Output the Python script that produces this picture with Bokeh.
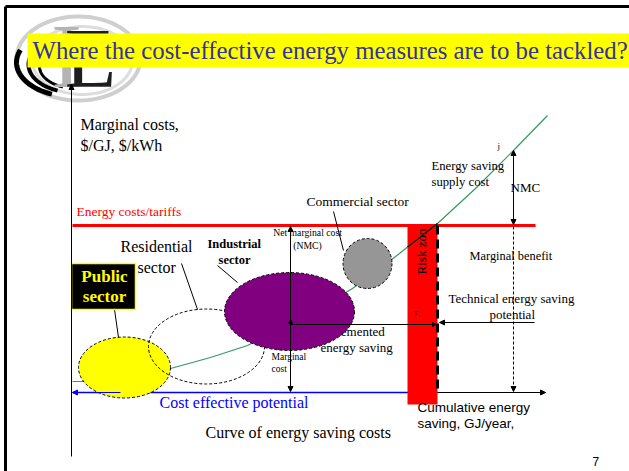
from bokeh.plotting import figure
from bokeh.models import Range1d, Arrow, NormalHead
from bokeh.core.properties import value
from bokeh.embed import file_html
from bokeh.resources import INLINE
import numpy as np

# ---------------- data ----------------
title_text = "Where the cost-effective energy measures are to be tackled?"
# energy-saving supply cost curve (cumulative saving -> marginal cost), diagram units
curve_x = [72, 82, 130, 170, 210, 247, 300, 352, 390, 437, 475, 513, 547]
curve_y = [381, 381, 375, 368, 357, 345, 318, 288, 260, 223, 188, 150, 115]
tariff_level = 225
baseline_level = 392
risk_zone = [407, 437]
sector_names = ["Public sector", "Residential sector", "Industrial sector", "Commercial sector"]
sector_x = [124, 206, 289, 367]
sector_y = [367, 346, 311, 263]
sector_w = [92, 116, 130, 49]
sector_h = [61, 75, 78, 50]
sector_fill = ["#ffff00", None, "#800080", "#969696"]

SERIF = value("Liberation Serif")
SANS = value("Liberation Sans")
W, H = 629, 471

p = figure(width=W, height=H, output_backend="svg", toolbar_location=None,
           x_range=Range1d(0, W), y_range=Range1d(H, 0),
           min_border=0, outline_line_color=None)
p.axis.visible = False
p.grid.visible = False


def txt(x, y, s, size, color="black", font=SERIF, align="left", style="normal", angle=0):
    p.text(x=[x], y=[y], text=[s], text_font=font, text_font_size=size,
           text_color=color, text_align=align, text_baseline="middle",
           text_font_style=style, angle=angle)


def arrow(x0, y0, x1, y1, color="black", width=1, dash="solid", size=6):
    a = Arrow(x_start=x0, y_start=y0, x_end=x1, y_end=y1, line_color=color,
              line_width=width, line_dash=dash,
              end=NormalHead(size=size, fill_color=color, line_color=color))
    p.add_layout(a)

# ---------------- slide frame & logo ----------------
p.line([5, W], [6, 6], line_color="black", line_width=3)
p.line([5, 5], [6, H], line_color="black", line_width=3)

t = np.linspace(0, 2 * np.pi, 90)
for cx, cy, rx, ry, c, w in [(78, 58, 62, 42, "#cfcfcf", 4), (82, 60, 50, 34, "#dddddd", 3)]:
    p.line(cx + rx * np.cos(t), cy + ry * np.sin(t), line_color=c, line_width=w)
ta = np.linspace(0.62 * np.pi, 1.12 * np.pi, 40)
for cx, cy, rx, ry, w in [(72, 62, 56, 34, 5), (74, 64, 46, 28, 4), (76, 66, 37, 22, 3)]:
    p.line(cx + rx * np.cos(ta), cy + ry * np.sin(ta), line_color="black", line_width=w)
txt(66, 55, "I", "92px", color="#b4b4b4", align="center")
txt(90, 58, "E", "84px", color="#1e1e1e", align="center")

# title
p.quad(left=[27], right=[W], top=[33], bottom=[67], fill_color="#ffff00", line_color=None)
txt(32, 50, title_text, "24.8px", color="#333399")

# ---------------- axes ----------------
arrow(71, 456, 71, 84, size=5)
p.line([72, risk_zone[1]], [baseline_level, baseline_level], line_color="blue", line_width=1.5)
arrow(120, baseline_level, 72, baseline_level, color="blue", size=5)
arrow(risk_zone[1], baseline_level, 545, baseline_level, size=5)

txt(80, 124, "Marginal costs,", "16px")
txt(80, 145, "$/GJ, $/kWh", "16px")

# risk zone
p.quad(left=[risk_zone[0]], right=[risk_zone[1]], top=[tariff_level], bottom=[404],
       fill_color="#ff0000", line_color=None)
txt(421, 251, "Risk zon", "13px", angle=np.pi / 2, align="center")
txt(413, 312, "T", "7px")

# tariff line
p.line([72, 535], [tariff_level, tariff_level], line_color="#ff0000", line_width=3)
txt(76, 211, "Energy costs/tariffs", "13.5px", color="#ff0000")

# implemented saving text (partially hidden by industrial ellipse)
txt(350, 331, "Implemented", "13px", align="center")
txt(320, 347, "energy saving", "13px")

# curve
p.line(curve_x, curve_y, line_color="#339966", line_width=1.2)
seg_x = [x for x in curve_x if risk_zone[0] <= x <= risk_zone[1]]
ry = float(np.interp(risk_zone[0], curve_x, curve_y))
p.line([risk_zone[0]] + seg_x, [ry] + [curve_y[curve_x.index(x)] for x in seg_x],
       line_color="black", line_width=1.2)

# dashed risk boundary
p.line([risk_zone[1], risk_zone[1]], [tariff_level, baseline_level],
       line_color="black", line_width=3, line_dash="9 5")

# horizontal arrows
arrow(290, 324, 436, 324, size=4)
arrow(534, 322, 439, 322, size=5)

# ---------------- sectors ----------------
for i in range(4):
    p.ellipse(x=[sector_x[i]], y=[sector_y[i]], width=[sector_w[i]], height=[sector_h[i]],
              fill_color=sector_fill[i], fill_alpha=1 if sector_fill[i] else 0,
              line_color="black", line_dash="3 2", line_width=1)

# NMC vertical arrows (through industrial ellipse)
arrow(290, 320, 290, 226, size=5)
arrow(290, 330, 290, 391, size=5)
arrow(290, 340, 290, 319, size=4)

# connectors
p.segment(x0=[333, 181, 217, 114], y0=[211, 263, 265, 309],
          x1=[343, 197, 237, 118], y1=[250, 309, 282, 337], line_color="black", line_width=1)

# Public sector box
p.quad(left=[71], right=[135], top=[263], bottom=[309], fill_color="black",
       line_color="#ffff00", line_width=1.5)
txt(104, 276, "Public", "17px", color="#ffff00", align="center", style="bold")
txt(104, 296, "sector", "17px", color="#ffff00", align="center", style="bold")

txt(120, 246, "Residential", "16px")
txt(137, 267, "sector", "16px")
txt(207, 243, "Industrial", "12.5px", style="bold")
txt(234, 259, "sector", "12.5px", style="bold", align="center")
txt(306, 201, "Commercial sector", "13.5px")
txt(307, 232, "Net marginal cost", "9.7px", align="center")
txt(307, 245, "(NMC)", "9.7px", align="center")
txt(271, 356, "Marginal", "9.5px")
txt(271, 368, "cost", "9.5px")

# right side
arrow(513, 190, 513, 150, size=5)
arrow(513, 190, 513, 224, size=5)
arrow(513, 226, 513, 391, dash="3 2", size=5)
txt(497, 145, "j", "9px")
txt(431, 165, "Energy saving", "12.7px")
txt(431, 181, "supply cost", "12.7px")
txt(510, 187, "NMC", "13px")
txt(469, 255, "Marginal benefit", "12.4px")
txt(448, 298, "Technical  energy saving", "13px")
txt(489, 314, "potential", "13px")

# bottom texts
txt(159, 402, "Cost effective potential", "16px", color="#0000ff")
txt(205, 432, "Curve of energy saving costs", "16px")
txt(417, 407, "Cumulative energy", "13.5px", font=SANS)
txt(417, 423, "saving,  GJ/year,", "13.5px", font=SANS)
txt(592, 461, "7", "12px", font=SANS)

open("out.html", "w").write(file_html(p, INLINE))
